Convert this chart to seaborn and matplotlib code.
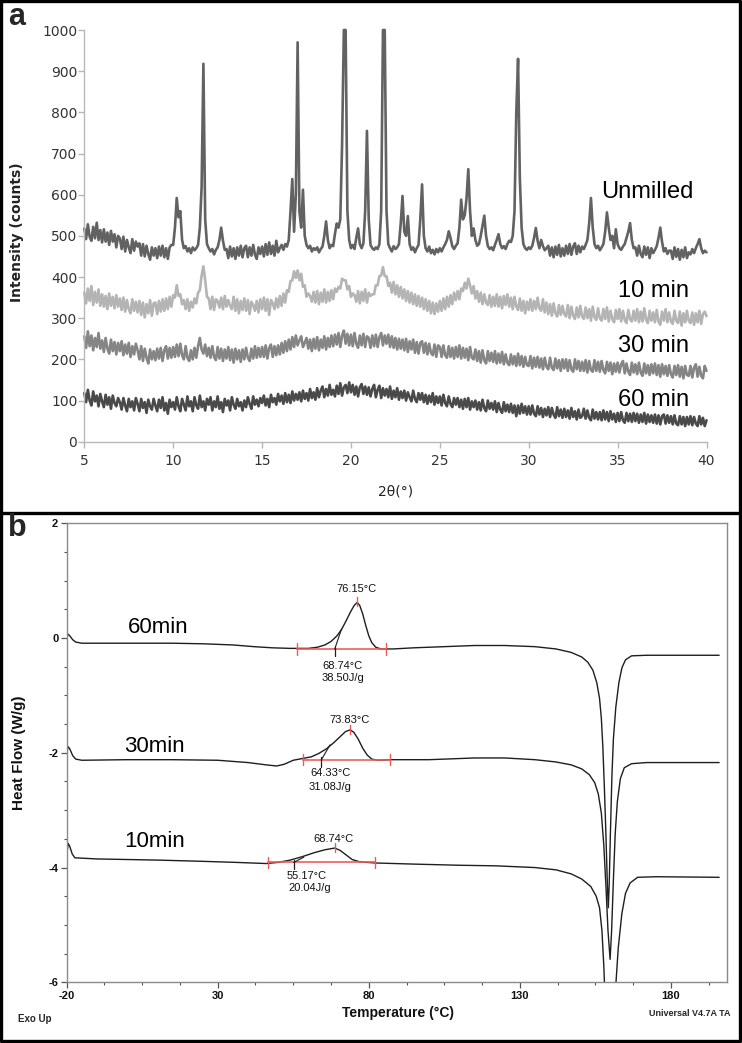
import numpy as np
import pandas as pd
import matplotlib
matplotlib.use("Agg")
import matplotlib.pyplot as plt
from matplotlib.lines import Line2D
from matplotlib.ticker import FixedLocator, MultipleLocator
import seaborn as sns

# ============================================================
# DATA - panel a : XRD patterns (0.1 deg steps)
# ============================================================

two_theta = np.round(np.arange(5.0, 40.05, 0.1), 1)

xrd_unmilled = [
    518, 492, 528, 498, 488, 522, 494, 532, 490, 514,   # 5
    484, 516, 486, 508, 478, 512, 486, 504, 472, 500,   # 6
    494, 468, 498, 462, 490, 472, 458, 492, 464, 486,   # 7
    474, 482, 452, 480, 450, 476, 456, 442, 472, 452,   # 8
    470, 446, 474, 452, 476, 448, 470, 444, 472, 478,   # 9
    478, 520, 592, 545, 560, 490, 470, 475, 462, 470,   # 10
    458, 472, 465, 470, 478, 520, 620, 918, 540, 480,   # 11
    470, 462, 468, 455, 466, 472, 490, 520, 488, 466,   # 12
    468, 446, 474, 450, 470, 444, 472, 452, 476, 448,   # 13
    470, 476, 448, 472, 452, 478, 454, 444, 472, 456,   # 14
    474, 450, 480, 454, 484, 456, 476, 452, 488, 460,   # 15
    470, 478, 466, 480, 474, 490, 560, 638, 510, 600,   # 16
    970, 560, 520, 612, 500, 478, 470, 476, 462, 470,   # 17
    466, 472, 460, 468, 474, 500, 535, 490, 470, 478,   # 18
    475, 505, 530, 520, 540, 720, 1000, 1000, 560, 490, # 19
    470, 478, 468, 495, 518, 480, 470, 482, 560, 755,   # 20
    540, 478, 470, 466, 472, 468, 480, 560, 1000, 1000, # 21
    560, 480, 470, 462, 475, 468, 472, 480, 530, 597,   # 22
    510, 500, 548, 480, 466, 472, 460, 470, 478, 540,   # 23
    625, 500, 470, 462, 474, 458, 466, 455, 468, 460,   # 24
    470, 462, 472, 480, 490, 511, 495, 475, 468, 476,   # 25
    482, 520, 588, 540, 550, 590, 662, 560, 500, 518,   # 26
    490, 476, 480, 500, 525, 549, 500, 475, 468, 472,   # 27
    465, 478, 490, 504, 480, 470, 475, 468, 480, 488,   # 28
    485, 500, 560, 800, 930, 640, 520, 480, 470, 466,   # 29
    472, 468, 476, 495, 519, 488, 470, 490, 475, 465,   # 30
    470, 476, 452, 472, 448, 474, 454, 478, 450, 470,   # 31
    452, 476, 456, 480, 454, 474, 482, 456, 476, 460,   # 32
    474, 468, 478, 490, 530, 592, 520, 480, 470, 476,   # 33
    465, 472, 480, 510, 557, 520, 490, 500, 470, 516,   # 34
    480, 470, 466, 474, 480, 495, 510, 531, 490, 470,   # 35
    472, 452, 476, 456, 448, 474, 454, 472, 446, 470,   # 36
    458, 466, 475, 495, 520, 485, 462, 470, 456, 464,   # 37
    464, 444, 472, 449, 468, 442, 466, 448, 472, 446,   # 38
    460, 455, 468, 458, 470, 480, 492, 470, 458, 464,   # 39
    460,
]

xrd_10min = [
    362, 336, 372, 342, 378, 332, 364, 338, 370, 330,   # 5
    358, 328, 354, 322, 360, 330, 352, 324, 356, 328,   # 6
    348, 320, 350, 316, 344, 322, 312, 346, 318, 340,   # 7
    314, 342, 308, 338, 302, 334, 312, 344, 306, 336,   # 8
    338, 310, 342, 316, 346, 318, 348, 322, 352, 328,   # 9
    356, 350, 380, 354, 358, 334, 344, 322, 346, 318,   # 10
    340, 326, 348, 336, 362, 368, 404, 426, 392, 352,   # 11
    348, 322, 352, 320, 346, 342, 326, 350, 322, 354,   # 12
    328, 344, 330, 322, 352, 318, 346, 312, 342, 320,   # 13
    348, 318, 344, 310, 340, 332, 318, 342, 314, 346,   # 14
    322, 350, 318, 346, 308, 344, 336, 322, 348, 326,   # 15
    354, 330, 360, 338, 368, 364, 390, 392, 414, 398,   # 16
    416, 392, 408, 376, 380, 352, 360, 354, 340, 364,   # 17
    338, 366, 334, 362, 340, 370, 338, 364, 342, 368,   # 18
    346, 372, 364, 376, 372, 396, 392, 392, 370, 378,   # 19
    352, 360, 356, 340, 366, 336, 364, 342, 370, 338,   # 20
    362, 354, 358, 358, 380, 380, 402, 404, 424, 402,   # 21
    402, 378, 386, 362, 388, 358, 380, 352, 376, 348,   # 22
    370, 342, 366, 338, 362, 334, 358, 330, 354, 328,   # 23
    350, 322, 346, 318, 342, 312, 338, 310, 336, 316,   # 24
    342, 318, 348, 322, 352, 328, 356, 334, 362, 344,   # 25
    366, 346, 372, 366, 386, 372, 396, 380, 360, 378,   # 26
    348, 366, 340, 362, 334, 358, 338, 332, 356, 328,   # 27
    352, 330, 358, 328, 352, 324, 354, 332, 358, 328,   # 28
    350, 322, 352, 328, 320, 348, 318, 342, 312, 340,   # 29
    320, 346, 318, 342, 322, 350, 324, 318, 346, 314,   # 30
    338, 310, 334, 306, 336, 312, 304, 332, 308, 330,   # 31
    310, 304, 332, 300, 328, 306, 298, 326, 302, 330,   # 32
    304, 298, 326, 300, 322, 294, 328, 302, 296, 324,   # 33
    300, 294, 322, 298, 326, 292, 318, 298, 290, 320,   # 34
    298, 322, 292, 318, 296, 288, 320, 298, 292, 318,   # 35
    294, 322, 290, 316, 292, 324, 296, 288, 318, 294,   # 36
    314, 290, 320, 292, 284, 316, 294, 322, 290, 314,   # 37
    292, 286, 318, 294, 288, 316, 282, 312, 290, 318,   # 38
    294, 288, 314, 284, 312, 290, 318, 286, 310, 316,   # 39
    305,
]

xrd_30min = [
    256, 228, 268, 232, 258, 222, 252, 230, 264, 226,   # 5
    246, 218, 252, 226, 214, 248, 220, 242, 212, 240,   # 6
    220, 244, 210, 236, 214, 240, 206, 232, 212, 238,   # 7
    222, 200, 232, 196, 226, 204, 190, 224, 200, 220,   # 8
    198, 226, 202, 228, 196, 222, 232, 202, 228, 204,   # 9
    230, 206, 236, 208, 238, 210, 200, 232, 204, 196,   # 10
    222, 200, 228, 204, 232, 252, 224, 214, 236, 208,   # 11
    228, 204, 232, 206, 198, 230, 202, 226, 196, 224,   # 12
    202, 230, 198, 224, 192, 226, 200, 222, 194, 224,   # 13
    200, 228, 204, 196, 226, 202, 232, 204, 228, 206,   # 14
    230, 206, 234, 202, 228, 236, 206, 232, 210, 234,   # 15
    212, 240, 216, 244, 220, 248, 224, 254, 230, 258,   # 16
    234, 246, 256, 230, 240, 252, 226, 248, 220, 250,   # 17
    226, 254, 222, 248, 228, 256, 224, 252, 230, 258,   # 18
    232, 260, 236, 264, 230, 258, 270, 238, 262, 234,   # 19
    260, 232, 264, 238, 228, 258, 234, 262, 230, 256,   # 20
    252, 228, 258, 232, 260, 230, 254, 264, 234, 258,   # 21
    238, 260, 230, 256, 228, 252, 224, 250, 226, 248,   # 22
    222, 250, 218, 244, 224, 248, 216, 242, 214, 240,   # 23
    244, 216, 240, 212, 238, 216, 210, 236, 206, 234,   # 24
    230, 206, 234, 210, 204, 232, 206, 228, 202, 230,   # 25
    206, 234, 202, 228, 204, 226, 198, 230, 204, 200,   # 26
    224, 196, 220, 192, 222, 198, 190, 220, 196, 216,   # 27
    194, 220, 190, 214, 192, 218, 188, 212, 192, 186,   # 28
    212, 188, 208, 184, 214, 186, 208, 182, 206, 186,   # 29
    184, 208, 178, 204, 182, 206, 180, 202, 176, 204,   # 30
    182, 176, 204, 180, 174, 202, 178, 198, 172, 200,   # 31
    178, 200, 172, 198, 176, 170, 200, 176, 196, 172,   # 32
    194, 172, 198, 168, 196, 174, 170, 198, 172, 194,   # 33
    170, 196, 174, 166, 194, 172, 192, 164, 190, 170,   # 34
    192, 168, 188, 196, 166, 190, 170, 162, 192, 168,   # 35
    188, 164, 192, 168, 160, 190, 166, 186, 162, 188,   # 36
    166, 190, 162, 186, 158, 188, 164, 184, 160, 186,   # 37
    164, 156, 184, 162, 186, 158, 182, 154, 184, 162,   # 38
    160, 184, 156, 180, 188, 158, 182, 160, 154, 184,   # 39
    172,
]

xrd_60min = [
    118, 96, 126, 100, 88, 122, 98, 112, 86, 116,   # 5
    98, 84, 114, 90, 108, 80, 112, 94, 86, 106,     # 6
    96, 78, 106, 88, 74, 104, 84, 98, 76, 106,      # 7
    92, 74, 104, 82, 96, 70, 102, 86, 78, 104,      # 8
    88, 74, 102, 82, 108, 76, 94, 68, 102, 84,      # 9
    96, 78, 108, 86, 74, 104, 90, 76, 110, 86,      # 10
    98, 74, 108, 88, 80, 112, 84, 98, 76, 104,      # 11
    90, 108, 76, 98, 84, 110, 80, 96, 72, 104,      # 12
    88, 100, 76, 108, 90, 80, 104, 86, 96, 76,      # 13
    100, 84, 108, 92, 80, 110, 90, 102, 86, 106,    # 14
    94, 112, 88, 104, 84, 114, 96, 106, 90, 116,    # 15
    98, 112, 92, 118, 96, 114, 94, 122, 100, 116,   # 16
    102, 120, 98, 124, 104, 118, 100, 128, 106, 120,  # 17
    102, 130, 108, 124, 134, 108, 128, 112, 138, 114,  # 18
    126, 110, 136, 116, 142, 112, 132, 138, 118, 144,  # 19
    120, 138, 114, 134, 110, 132, 140, 116, 134, 114,  # 20
    132, 110, 128, 138, 108, 126, 136, 106, 130, 112,  # 21
    128, 108, 134, 104, 124, 108, 130, 102, 122, 106,  # 22
    124, 100, 120, 108, 98, 124, 104, 96, 118, 102,    # 23
    118, 96, 114, 92, 112, 96, 118, 90, 110, 94,       # 24
    110, 88, 114, 94, 86, 110, 92, 84, 106, 90,        # 25
    106, 84, 102, 80, 104, 84, 106, 78, 98, 84,        # 26
    100, 78, 96, 76, 102, 82, 74, 100, 80, 94,         # 27
    78, 98, 72, 94, 78, 70, 96, 74, 90, 72,            # 28
    92, 70, 88, 62, 88, 68, 92, 70, 86, 66,            # 29
    86, 66, 88, 68, 62, 86, 66, 82, 60, 80,            # 30
    64, 84, 60, 82, 66, 58, 84, 62, 78, 58,            # 31
    80, 60, 76, 56, 82, 60, 74, 54, 78, 58,            # 32
    62, 80, 56, 76, 58, 52, 78, 56, 72, 54,            # 33
    72, 52, 76, 54, 72, 50, 74, 54, 68, 48,            # 34
    70, 50, 72, 52, 46, 70, 50, 68, 48, 70,            # 35
    50, 68, 46, 66, 48, 70, 44, 66, 48, 64,            # 36
    46, 66, 44, 64, 42, 62, 66, 44, 64, 46,            # 37
    62, 42, 64, 44, 40, 62, 42, 60, 38, 60,            # 38
    42, 62, 40, 60, 44, 38, 62, 42, 58, 38,            # 39
    52,
]

xrd_samples = ["Unmilled", "10 min", "30 min", "60 min"]
xrd_colors = ["#626262", "#b4b4b4", "#858585", "#4a4a4a"]

# ============================================================
# DATA - panel b : DSC thermograms (T in degC, heat flow in W/g)
# ============================================================

dsc_60min = [
    (-20.0, 0.00), (-19.6, 0.07), (-19.0, 0.04), (-18.0, -0.03), (-17.0, -0.07), (-15.0, -0.09),
    (0.0, -0.09), (15.0, -0.09), (25.0, -0.10), (35.0, -0.12), (42.0, -0.15), (48.0, -0.17),
    (54.0, -0.18), (60.0, -0.18), (63.0, -0.16), (65.5, -0.12), (67.5, -0.06), (69.5, 0.04),
    (71.0, 0.15), (72.5, 0.30), (74.0, 0.46), (75.2, 0.57), (76.15, 0.62), (77.0, 0.57),
    (78.0, 0.42), (79.0, 0.22), (80.0, 0.04), (81.0, -0.08), (82.3, -0.16), (84.0, -0.19),
    (88.0, -0.19), (95.0, -0.17), (105.0, -0.15), (115.0, -0.13), (125.0, -0.13), (135.0, -0.15),
    (142.0, -0.19), (147.0, -0.25), (150.5, -0.33), (152.5, -0.42), (154.2, -0.56), (155.5, -0.78),
    (156.4, -1.05), (157.0, -1.40), (157.5, -1.90), (158.0, -2.60), (158.5, -3.40), (159.0, -4.30),
    (159.3, -4.70), (159.6, -4.30), (160.0, -3.40), (160.5, -2.40), (161.0, -1.75), (161.8, -1.20),
    (162.8, -0.78), (163.8, -0.52), (165.0, -0.38), (167.0, -0.31), (172.0, -0.30), (196.0, -0.30),
]

dsc_30min = [
    (-20.0, -2.05), (-19.6, -1.89), (-19.0, -1.93), (-18.0, -2.05), (-17.0, -2.11), (-15.0, -2.13),
    (0.0, -2.12), (15.0, -2.12), (30.0, -2.13), (40.0, -2.17), (46.0, -2.21), (49.5, -2.23),
    (52.0, -2.20), (55.0, -2.13), (58.0, -2.10), (61.0, -2.07), (63.5, -2.01), (66.0, -1.93),
    (68.5, -1.82), (70.5, -1.72), (72.3, -1.63), (73.83, -1.60), (75.0, -1.64), (76.5, -1.76),
    (78.0, -1.92), (79.5, -2.04), (81.0, -2.11), (83.0, -2.13), (87.0, -2.12), (100.0, -2.12),
    (115.0, -2.09), (125.0, -2.09), (135.0, -2.12), (142.0, -2.16), (147.0, -2.21), (150.5, -2.28),
    (153.0, -2.38), (154.8, -2.52), (156.0, -2.72), (157.0, -3.05), (157.8, -3.60), (158.5, -4.30),
    (159.2, -5.10), (159.9, -5.60), (160.4, -5.10), (161.0, -4.20), (161.6, -3.40), (162.3, -2.85),
    (163.3, -2.45), (164.6, -2.26), (167.0, -2.19), (172.0, -2.17), (196.0, -2.17),
]

dsc_10min = [
    (-20.0, -3.88), (-19.8, -3.70), (-19.5, -3.58), (-19.0, -3.63), (-18.2, -3.76), (-17.3, -3.83),
    (-10.0, -3.85), (0.0, -3.86), (10.0, -3.87), (24.0, -3.89), (36.0, -3.91), (46.0, -3.93),
    (50.0, -3.91), (54.0, -3.87), (58.0, -3.81), (62.0, -3.74), (65.5, -3.69), (68.74, -3.66),
    (70.5, -3.70), (72.5, -3.78), (74.5, -3.86), (77.0, -3.90), (82.0, -3.92), (95.0, -3.94),
    (110.0, -3.96), (122.0, -3.97), (135.0, -4.00), (142.0, -4.04), (147.0, -4.11), (150.5, -4.20),
    (153.5, -4.33), (155.3, -4.50), (156.4, -4.70), (157.2, -5.10), (157.8, -5.70), (158.4, -6.50),
    (159.6, -7.40), (160.8, -6.90), (161.6, -6.20), (162.6, -5.40), (163.8, -4.80), (165.0, -4.45),
    (166.5, -4.27), (169.0, -4.17), (175.0, -4.16), (196.0, -4.17),
]

dsc_names = ["60min", "30min", "10min"]
dsc_peak_T = [76.15, 73.83, 68.74]
dsc_peak_hf = [0.62, -1.60, -3.66]
dsc_onset_T = [68.74, 64.33, 55.17]
dsc_enthalpy = [38.50, 31.08, 20.04]
dsc_limit_lo = [56.2, 58.3, 46.8]
dsc_limit_hi = [85.7, 87.1, 82.2]
dsc_base_hf = [-0.19, -2.12, -3.91]
dsc_tangent_end = [(71.0, 0.16), (67.2, -1.86), (58.5, -3.82)]

# ============================================================
# TABLES
# ============================================================

xrd_all = [xrd_unmilled, xrd_10min, xrd_30min, xrd_60min]
df_xrd = pd.concat([
    pd.DataFrame({"two_theta": two_theta, "intensity": vals, "sample": name})
    for name, vals in zip(xrd_samples, xrd_all)
], ignore_index=True)

dsc_all = [dsc_60min, dsc_30min, dsc_10min]
df_dsc = pd.concat([
    pd.DataFrame(np.array(pts), columns=["T", "hf"]).assign(sample=name)
    for name, pts in zip(dsc_names, dsc_all)
], ignore_index=True)

# ============================================================
# FIGURE
# ============================================================

sns.set_theme(style="white")
plt.rcParams["font.family"] = ["DejaVu Sans"]
plt.rcParams["axes.unicode_minus"] = False

W, H = 742, 1043
fig = plt.figure(figsize=(W / 100, H / 100), dpi=100)

# ---------------- panel a ----------------
ax_a = fig.add_axes([84.3 / W, 1 - 441.7 / H, 622.2 / W, 411.7 / H])

sns.lineplot(data=df_xrd, x="two_theta", y="intensity", hue="sample",
             hue_order=xrd_samples, palette=dict(zip(xrd_samples, xrd_colors)),
             estimator=None, sort=False, linewidth=1.9, legend=False, ax=ax_a)
for ln in ax_a.lines:
    ln.set_clip_on(False)

ax_a.set_xlim(5, 40)
ax_a.set_ylim(0, 1000)
ax_a.set_xticks(range(5, 41, 5))
ax_a.set_yticks(range(0, 1001, 100))
for side in ["top", "right"]:
    ax_a.spines[side].set_visible(False)
for side in ["left", "bottom"]:
    ax_a.spines[side].set_color("#b8b8b8")
    ax_a.spines[side].set_linewidth(1.0)
ax_a.tick_params(axis="both", direction="out", length=4, width=1, color="#b8b8b8",
                 labelsize=10, labelcolor="#333333", left=True, bottom=True)
ax_a.tick_params(axis="x", pad=5)
ax_a.tick_params(axis="y", pad=1)

ax_a.set_xlabel("2θ(°)", fontsize=10, color="#222222")
ax_a.xaxis.set_label_coords(0.5, -0.105)
ax_a.set_ylabel("Intensity (counts)", fontsize=10, fontweight="bold", color="#222222")
ax_a.yaxis.set_label_coords(-0.097, 0.51)

label_pos_a = [(34.06, 606), (35.0, 366), (35.0, 232), (35.0, 102)]
for txt, (tx, ty) in zip(xrd_samples, label_pos_a):
    ax_a.text(tx, ty, txt, fontsize=17, family="Liberation Sans", color="black",
              ha="left", va="center")

# ---------------- panel b ----------------
ax_b = fig.add_axes([66.7 / W, 1 - 982.3 / H, 660.3 / W, 459.0 / H])

sns.lineplot(data=df_dsc, x="T", y="hf", hue="sample", hue_order=dsc_names,
             palette=dict(zip(dsc_names, ["#1e1e1e"] * 3)),
             estimator=None, sort=False, linewidth=1.0, legend=False, ax=ax_b)

red = "#ee5a55"
for i in range(3):
    base = dsc_base_hf[i]
    ax_b.plot([dsc_limit_lo[i], dsc_limit_hi[i]], [base, base], color=red, lw=1.3, alpha=0.9)
    for lim in (dsc_limit_lo[i], dsc_limit_hi[i]):
        ax_b.plot([lim, lim], [base - 0.1, base + 0.1], color=red, lw=1.0)
    ax_b.plot([dsc_peak_T[i], dsc_peak_T[i]], [dsc_peak_hf[i] - 0.07, dsc_peak_hf[i] + 0.09],
              color=red, lw=1.0)
    ax_b.plot([dsc_onset_T[i], dsc_onset_T[i]], [base + 0.04, base - 0.12], color="#1e1e1e", lw=0.9)
    ax_b.plot([dsc_onset_T[i], dsc_tangent_end[i][0]], [base, dsc_tangent_end[i][1]],
              color="#1e1e1e", lw=0.8)

ann_kw = dict(fontsize=8, family="Liberation Sans", color="#111111", ha="center", va="center")
peak_label_xy = [(75.8, 0.85), (73.6, -1.42), (68.3, -3.50)]
onset_label_xy = [(71.4, -0.48), (67.2, -2.35), (59.5, -4.15)]
enth_label_xy = [(71.5, -0.70), (67.3, -2.59), (60.6, -4.36)]
for i in range(3):
    ax_b.text(*peak_label_xy[i], f"{dsc_peak_T[i]:.2f}°C", **ann_kw)
    ax_b.text(*onset_label_xy[i], f"{dsc_onset_T[i]:.2f}°C", **ann_kw)
    ax_b.text(*enth_label_xy[i], f"{dsc_enthalpy[i]:.2f}J/g", **ann_kw)

curve_label_xy = [(0.3, 0.19), (-1.0, -1.89), (-1.0, -3.54)]
for name, (tx, ty) in zip(dsc_names, curve_label_xy):
    ax_b.text(tx, ty, name, fontsize=16, family="Liberation Sans", color="black",
              ha="left", va="center")

ax_b.set_xlim(-20, 198.6)
ax_b.set_ylim(-6, 2)
ax_b.xaxis.set_major_locator(FixedLocator([-20, 30, 80, 130, 180]))
ax_b.xaxis.set_minor_locator(FixedLocator(np.arange(-20, 198, 12.5)))
ax_b.yaxis.set_major_locator(FixedLocator([-6, -4, -2, 0, 2]))
ax_b.yaxis.set_minor_locator(MultipleLocator(0.5))
for side in ax_b.spines:
    ax_b.spines[side].set_color("#8a8a8a")
    ax_b.spines[side].set_linewidth(1.0)
ax_b.tick_params(which="major", direction="out", length=4, width=0.9, color="#555555",
                 left=True, bottom=True, labelsize=8, pad=2)
ax_b.tick_params(which="minor", direction="out", length=2.5, width=0.8, color="#555555",
                 left=True, bottom=True)
for lab in ax_b.get_xticklabels() + ax_b.get_yticklabels():
    lab.set_family("Liberation Sans")
    lab.set_fontweight("bold")
    lab.set_color("#111111")

ax_b.set_xlabel("Temperature (°C)", fontsize=10, fontweight="bold", family="Liberation Sans",
                color="#111111")
ax_b.xaxis.set_label_coords(0.502, -0.052)
ax_b.set_ylabel("Heat Flow (W/g)", fontsize=11, fontweight="bold", family="Liberation Sans",
                color="#111111")
ax_b.yaxis.set_label_coords(-0.062, 0.50)

fig.text(18 / W, 1 - 1019 / H, "Exo Up", fontsize=7, fontweight="bold",
         family="Liberation Sans", ha="left", va="center")
fig.text(649 / W, 1 - 1014 / H, "Universal V4.7A TA", fontsize=6.5,
         fontweight="bold", family="Liberation Sans", ha="left", va="center")

# panel letters
fig.text(8 / W, 1 - 17 / H, "a", fontsize=22, fontweight="bold", family="Liberation Sans",
         ha="left", va="center")
fig.text(8 / W, 1 - 528 / H, "b", fontsize=22, fontweight="bold", family="Liberation Sans",
         ha="left", va="center")

# black frames around both panels
lw_frame = 2.4
xl, xr = 1.2 / W, 1 - 2.5 / W
yt, yb, ym = 1 - 1.2 / H, 2.5 / H, 1 - 513 / H
for xs, ys in [([xl, xr, xr, xl, xl], [yt, yt, yb, yb, yt]), ([xl, xr], [ym, ym])]:
    fig.add_artist(Line2D(xs, ys, transform=fig.transFigure, color="black", lw=lw_frame))

fig.savefig("out.png", dpi=100)
